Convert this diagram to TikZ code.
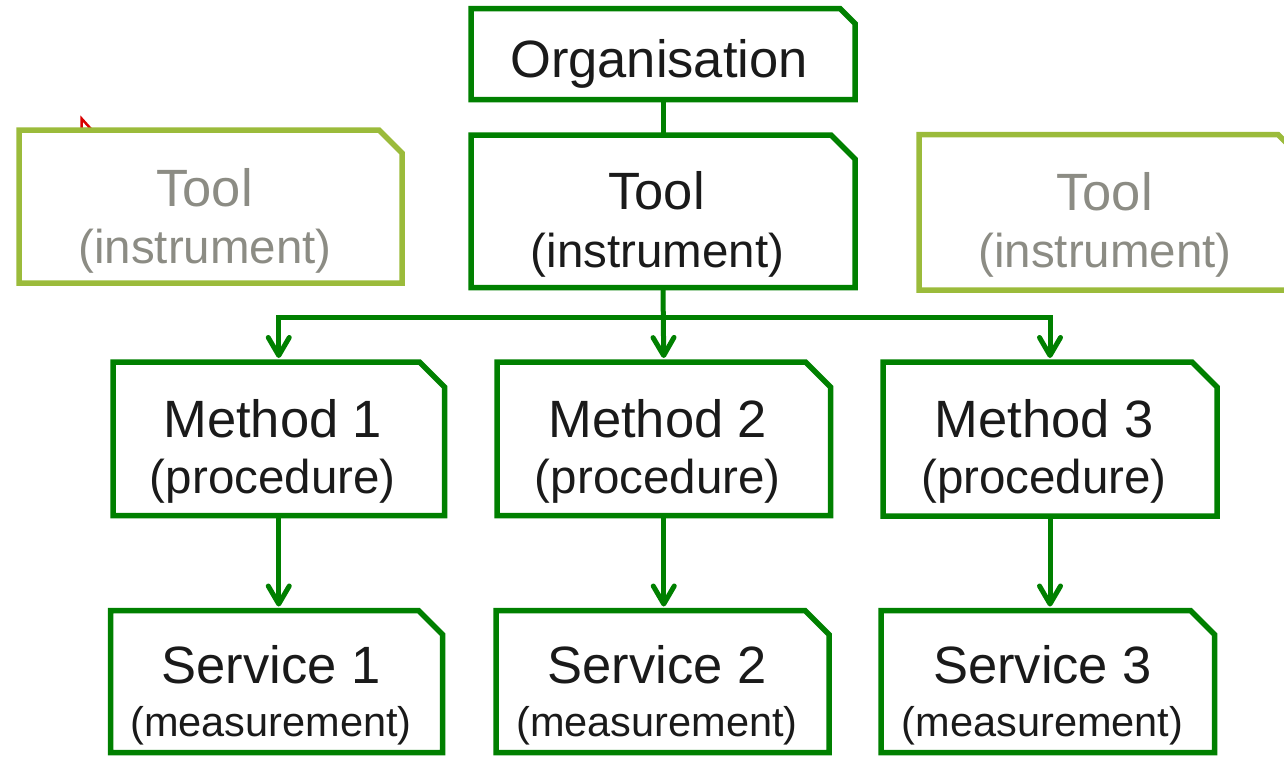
\documentclass[tikz,border=0pt]{standalone}
\usepackage{fontspec}
\setmainfont{Liberation Sans}
\usetikzlibrary{arrows.meta}
\definecolor{dg}{RGB}{0,128,0}
\definecolor{lg}{RGB}{155,187,59}
\definecolor{gtext}{RGB}{140,140,132}
\definecolor{btext}{RGB}{26,26,26}
\newcommand\SnipBox[3]{\draw[#3] (#1.north west) -- ([xshift=-#2]#1.north east) -- ([yshift=-#2]#1.north east) -- (#1.south east) -- (#1.south west) -- cycle;}
\begin{document}
\begin{tikzpicture}[x=1pt,y=-1pt,
  box/.style={rectangle, inner sep=0pt, outer sep=0pt, draw=none},
  dkline/.style={draw=dg, line width=5.5pt},
  ltline/.style={draw=lg, line width=5.5pt},
  big/.style={font=\fontsize{52.5}{60}\selectfont, text=btext, anchor=base, inner sep=0pt},
  small/.style={font=\fontsize{47.5}{55}\selectfont, text=btext, anchor=base, inner sep=0pt},
  tiny/.style={font=\fontsize{41.5}{48}\selectfont, text=btext, anchor=base, inner sep=0pt},
  conn/.style={draw=dg, line width=5pt},
  tipa/.tip={Straight Barb[length=18pt,width=21pt,round]},
  arr/.style={conn, -tipa, shorten >=4pt},
]
\useasboundingbox (0,0) rectangle (1284,756);
\clip (0,0) rectangle (1284,756);

% red artefact
\draw[red!85!black, line width=2.5pt, fill=white, line join=miter] (81.5,118.5) -- (81.5,129) -- (91,129) -- cycle;

% boxes
\node[box, minimum width=384pt, minimum height=91pt]    (org)   at (663,54) {};
\node[box, minimum width=384pt, minimum height=152.5pt] (tool)  at (663,211.25) {};
\node[box, minimum width=383pt, minimum height=153pt]   (toolL) at (210.5,206.5) {};
\node[box, minimum width=383pt, minimum height=155.5pt] (toolR) at (1110.5,212.25) {};
\node[box, minimum width=331.5pt, minimum height=153.5pt] (m1) at (278.75,438.75) {};
\node[box, minimum width=333.5pt, minimum height=153.5pt] (m2) at (663.75,438.75) {};
\node[box, minimum width=334pt, minimum height=154pt]     (m3) at (1050,439) {};
\node[box, minimum width=332pt, minimum height=142pt]   (s1) at (276.5,681.5) {};
\node[box, minimum width=333pt, minimum height=142pt]   (s2) at (662.5,681.5) {};
\node[box, minimum width=333.5pt, minimum height=142pt] (s3) at (1047.75,681.5) {};

\SnipBox{org}{15pt}{dkline}
\SnipBox{tool}{24pt}{dkline}
\SnipBox{toolL}{23pt}{ltline}
\SnipBox{toolR}{24pt}{ltline}
\foreach \n in {m1,m2,m3}{\SnipBox{\n}{25pt}{dkline}}
\foreach \n in {s1,s2,s3}{\SnipBox{\n}{24pt}{dkline}}

% texts
\node[big] (orgT) at (659,77) {Organisation};
\node[big] (toolT1) at (656.5,209) {Tool};
\node[small] (toolT2) at (657.5,267) {(instrument)};
\node[big, text=gtext] (toolLT1) at (204.5,206) {Tool};
\node[small, text=gtext] (toolLT2) at (205,263) {(instrument)};
\node[big, text=gtext] (toolRT1) at (1104.5,210) {Tool};
\node[small, text=gtext] (toolRT2) at (1105,267) {(instrument)};
\node[big] (m1T1) at (272.75,437) {Method 1};
\node[small] (m1T2) at (272.75,493) {(procedure)};
\node[big] (m2T1) at (657.75,437) {Method 2};
\node[small] (m2T2) at (657.75,493) {(procedure)};
\node[big] (m3T1) at (1044,437) {Method 3};
\node[small] (m3T2) at (1044,493) {(procedure)};
\node[big] (s1T1) at (271,683) {Service 1};
\node[tiny] (s1T2) at (271,736) {(measurement)};
\node[big] (s2T1) at (657,683) {Service 2};
\node[tiny] (s2T2) at (657,736) {(measurement)};
\node[big] (s3T1) at (1042.5,683) {Service 3};
\node[tiny] (s3T2) at (1042.5,736) {(measurement)};

% connectors
\coordinate (bus) at (663,317.5);
\draw[conn] (org.south) -- (tool.south |- tool.north);
\draw[arr] (tool.south) -- (m2.north);
\draw[conn, tipa-tipa, shorten <=4pt, shorten >=4pt] (m1.north) -- (m1.north |- bus) -- (m3.north |- bus) -- (m3.north);
\draw[arr] (m1.south) -- (m1.south |- s1.north);
\draw[arr] (m2.south) -- (m2.south |- s2.north);
\draw[arr] (m3.south) -- (m3.south |- s3.north);
\end{tikzpicture}
\end{document}
